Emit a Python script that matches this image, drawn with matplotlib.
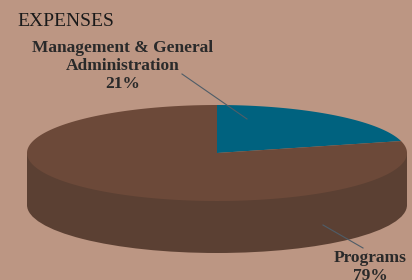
import numpy as np
import matplotlib.pyplot as plt
from matplotlib.patches import Polygon, Ellipse, Rectangle

labels = ["Management & General\nAdministration\n21%", "Programs\n79%"]
values = [21, 79]
colors = ["#00627F", "#6C4939"]
side_color = "#5B4033"
bg = "#BC9683"

W, H = 412, 280
fig = plt.figure(figsize=(W / 100, H / 100), dpi=100)
fig.patch.set_facecolor(bg)
ax = fig.add_axes([0, 0, 1, 1])
ax.set_xlim(0, W)
ax.set_ylim(H, 0)
ax.axis("off")

# pie geometry (pixels)
cx, cy, rx, ry, depth = 217, 153, 190, 48, 52

# side of the disc
ax.add_patch(Ellipse((cx, cy + depth), 2 * rx, 2 * ry, color=side_color, lw=0))
ax.add_patch(Rectangle((cx - rx, cy), 2 * rx, depth, color=side_color, lw=0))

# top face wedges, clockwise from 12 o'clock
start = 90.0
total = sum(values)
for v, c in zip(values, colors):
    sweep = 360.0 * v / total
    t = np.radians(np.linspace(start, start - sweep, 200))
    xs = np.concatenate([[cx], cx + rx * np.cos(t)])
    ys = np.concatenate([[cy], cy - ry * np.sin(t)])
    ax.add_patch(Polygon(np.column_stack([xs, ys]), closed=True, color=c, lw=0))
    start -= sweep

ax.text(17, 21, "EXPENSES", fontsize=14, family="Liberation Serif",
        color="#1a1a1a", va="center", ha="left")

# labels with leader lines
ax.text(123, 66, labels[0], fontsize=12.5, family="Liberation Serif", fontweight="bold",
        color="#2a2a2a", ha="center", va="center", linespacing=1.18)
ax.plot([182, 247], [74, 119], color="#4f5d68", lw=0.8)

ax.text(370, 250, labels[1], fontsize=12.5, family="Liberation Serif", fontweight="bold",
        color="#2a2a2a", ha="center", va="top", linespacing=1.18)
ax.plot([323, 363], [225, 248], color="#4f5d68", lw=0.8)

fig.savefig("out.png", dpi=100, facecolor=bg)
